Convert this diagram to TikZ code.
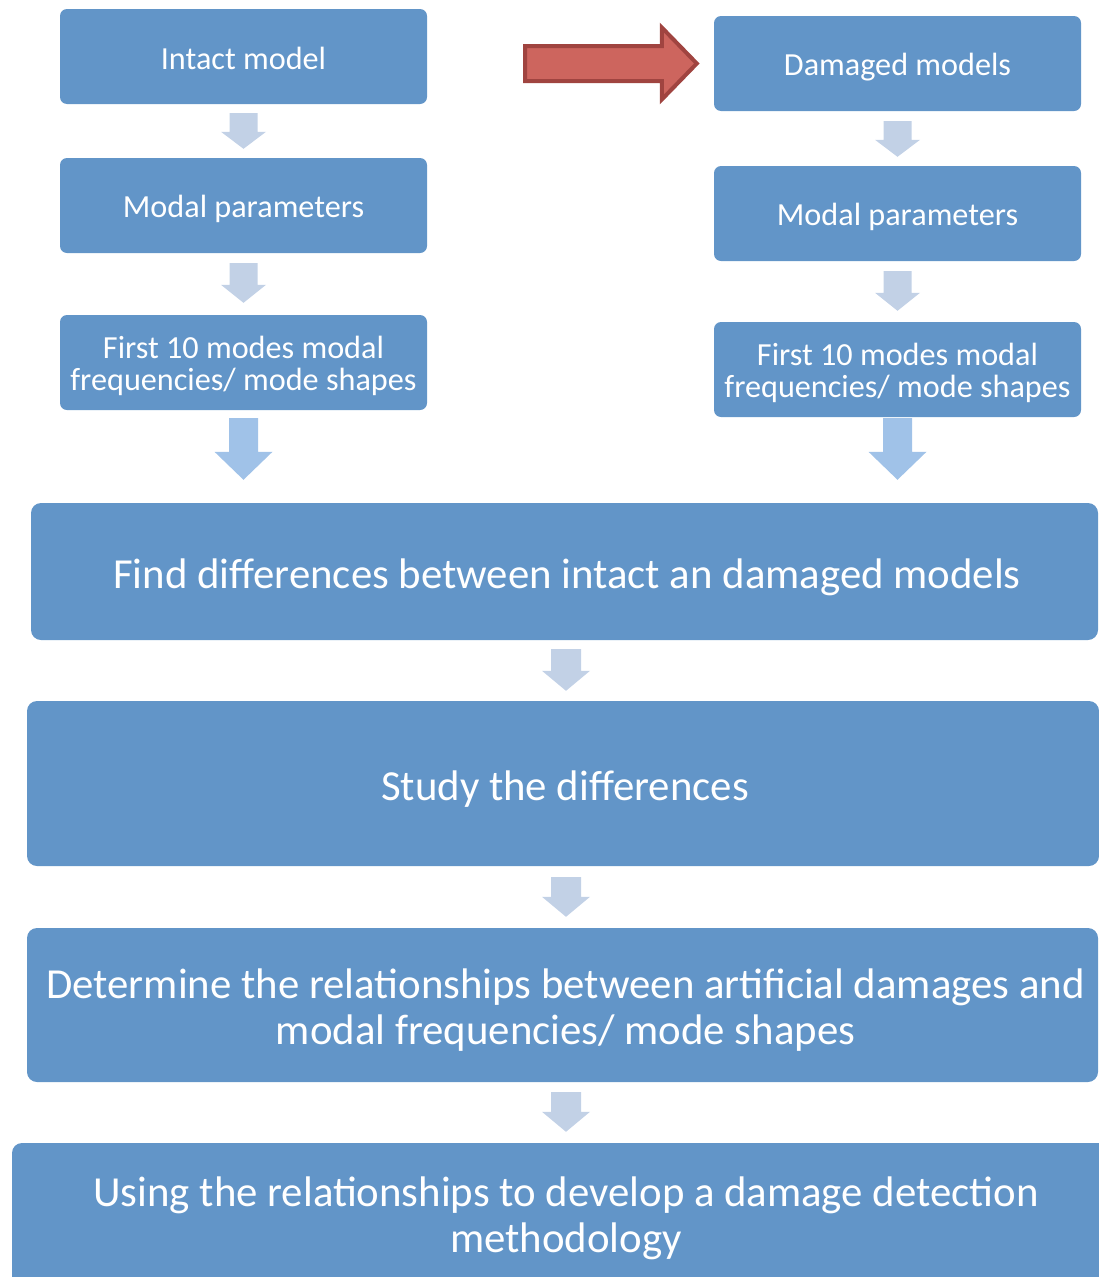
\documentclass[tikz,border=0pt]{standalone}
\usepackage{fontspec}
\setmainfont{Carlito}
\usetikzlibrary{calc}

\definecolor{boxblue}{RGB}{98,149,200}
\definecolor{arrowgrey}{RGB}{194,209,230}
\definecolor{arrowlight}{RGB}{160,194,232}
\definecolor{redfill}{RGB}{205,101,94}
\definecolor{redline}{RGB}{160,68,64}

% Block arrow pointing down from node #2 to node #3.
% #1 style, #4 gap below #2, #5 gap above #3, #6 shaft half width,
% #7 head half width, #8 head length, #9 horizontal offset
\newcommand{\blockdown}[9]{%
  \path[#1] let \p1=($(#2.south)+(#9,#4)$), \p2=($(#3.north)-(0,#5)$) in
    (\x1-#6pt,\y1) -- (\x1+#6pt,\y1) -- (\x1+#6pt,\y2+#8pt) --
    (\x1+#7pt,\y2+#8pt) -- (\x1,\y2) -- (\x1-#7pt,\y2+#8pt) --
    (\x1-#6pt,\y2+#8pt) -- cycle;}

\tikzset{
  smallbox/.style={rectangle, rounded corners=7pt, fill=boxblue,
    minimum width=367pt, minimum height=95pt, inner sep=0pt},
  bigbox/.style={rectangle, rounded corners=10pt, fill=boxblue, inner sep=0pt},
  smalltext/.style={text=white, inner sep=0pt, align=center,
    font=\fontsize{32.2}{32}\selectfont},
  bigtext/.style={text=white, inner sep=0pt, align=center,
    font=\fontsize{42.8}{45.5}\selectfont},
  greyarrow/.style={fill=arrowgrey},
  lightarrow/.style={fill=arrowlight},
  redarrow/.style={fill=redfill, draw=redline, line width=4pt, line join=miter}
}

\begin{document}
\begin{tikzpicture}[x=1pt, y=-1pt]
  \useasboundingbox (0,0) rectangle (1099,1277);
  \clip (0,0) rectangle (1099,1277);

  % left column
  \node[smallbox, label={[smalltext, yshift=-2pt]center:Intact model}]
    (intact) at (243.5,56.5) {};
  \node[smallbox, label={[smalltext, yshift=-3.5pt]center:Modal parameters}]
    (modalL) at (243.5,205.5) {};
  \node[smallbox, label={[smalltext, yshift=-3pt]center:{First 10 modes modal\\frequencies/ mode shapes}}]
    (firstL) at (243.5,362.5) {};

  % right column
  \node[smallbox, label={[smalltext, yshift=-3.5pt]center:Damaged models}]
    (damaged) at (897.5,63.5) {};
  \node[smallbox, label={[smalltext, yshift=-3.5pt]center:Modal parameters}]
    (modalR) at (897.5,213.5) {};
  \node[smallbox, label={[smalltext, yshift=-3pt]center:{First 10 modes modal\\frequencies/ mode shapes}}]
    (firstR) at (897.5,369.5) {};

  % wide steps
  \node[bigbox, minimum width=1067pt, minimum height=137pt,
    label={[bigtext, xshift=2.5pt, yshift=-5.5pt]center:Find differences between intact an damaged models}]
    (find) at (564.5,571.5) {};
  \node[bigbox, minimum width=1072pt, minimum height=165pt,
    label={[bigtext, xshift=2pt, yshift=-5.5pt]center:Study the differences}]
    (study) at (563,783.5) {};
  \node[bigbox, minimum width=1071pt, minimum height=154pt,
    label={[bigtext, xshift=3pt, yshift=-5pt]center:{Determine the relationships between artificial damages and\\modal frequencies/ mode shapes}}]
    (determine) at (562.5,1005) {};
  \node[bigbox, minimum width=1108pt, minimum height=147pt,
    label={[bigtext, yshift=-2pt]center:{Using the relationships to develop a damage detection\\methodology}}]
    (using) at (566,1216.5) {};

  % flow arrows
  \blockdown{greyarrow}{intact}{modalL}{9}{9}{14}{22.5}{17}{0}
  \blockdown{greyarrow}{modalL}{firstL}{10}{12}{14}{22.5}{18}{0}
  \blockdown{greyarrow}{damaged}{modalR}{10}{9}{14}{22.5}{17}{0}
  \blockdown{greyarrow}{modalR}{firstR}{10}{11}{14}{22.5}{18}{0}
  \blockdown{lightarrow}{firstL}{find}{8}{23}{14.5}{29}{28}{0}
  \blockdown{lightarrow}{firstR}{find}{1}{23}{14.5}{29}{28}{0}
  \blockdown{greyarrow}{find}{study}{9}{10}{15}{24}{20}{1.5}
  \blockdown{greyarrow}{study}{determine}{11}{11}{15}{24}{20}{3}
  \blockdown{greyarrow}{determine}{using}{10}{11}{15}{24}{20}{3.5}

  % red arrow towards the damaged models
  \path[redarrow] let \p1=($(damaged.west)+(-17,0)$), \p2=($(intact.east)+(98,0)$) in
    (\x1,\y1) -- (\x1-35pt,\y1+36pt) -- (\x1-35pt,\y1+17.5pt) --
    (\x2,\y1+17.5pt) -- (\x2,\y1-17.5pt) -- (\x1-35pt,\y1-17.5pt) --
    (\x1-35pt,\y1-36pt) -- cycle;
\end{tikzpicture}
\end{document}
